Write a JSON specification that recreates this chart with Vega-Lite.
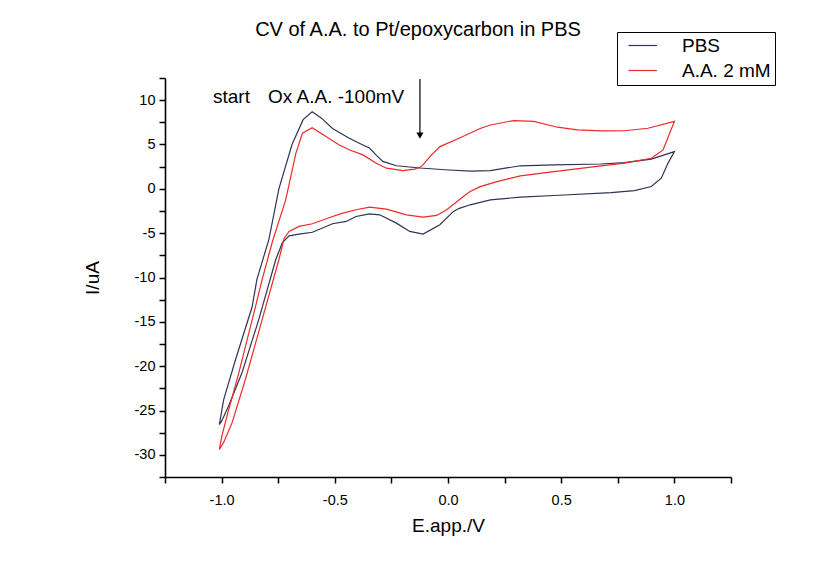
{
  "$schema": "https://vega.github.io/schema/vega-lite/v6.json",
  "width": 566,
  "height": 399,
  "autosize": {"type": "none"},
  "padding": {"left": 165, "top": 78, "right": 103, "bottom": 93},
  "background": "white",
  "config": {
    "font": "Liberation Sans",
    "view": {"stroke": null},
    "axis": {"grid": false, "domainColor": "black", "domainWidth": 1.6, "tickColor": "black", "tickWidth": 1.5, "tickSize": 6, "labelFont": "Liberation Sans", "labelFontSize": 14.5, "labelColor": "black", "titleFont": "Liberation Sans", "titleFontSize": 19, "titleFontWeight": "normal", "titleColor": "black"}
  },
  "title": {"text": "CV of A.A. to Pt/epoxycarbon in PBS", "fontSize": 20, "fontWeight": "normal", "font": "Liberation Sans", "anchor": "middle", "dx": -30, "offset": -8, "color": "black"},
  "datasets": {
    "cv": [
      {"s": "PBS", "o": 1, "E": -1.01, "I": -26.6},
      {"s": "PBS", "o": 2, "E": -0.991, "I": -23.8},
      {"s": "PBS", "o": 3, "E": -0.939, "I": -19.3},
      {"s": "PBS", "o": 4, "E": -0.865, "I": -13.3},
      {"s": "PBS", "o": 5, "E": -0.844, "I": -10.2},
      {"s": "PBS", "o": 6, "E": -0.791, "I": -5.7},
      {"s": "PBS", "o": 7, "E": -0.747, "I": 0},
      {"s": "PBS", "o": 8, "E": -0.689, "I": 5},
      {"s": "PBS", "o": 9, "E": -0.64, "I": 7.8},
      {"s": "PBS", "o": 10, "E": -0.6, "I": 8.7},
      {"s": "PBS", "o": 11, "E": -0.56, "I": 8.0},
      {"s": "PBS", "o": 12, "E": -0.51, "I": 6.8},
      {"s": "PBS", "o": 13, "E": -0.436, "I": 5.7},
      {"s": "PBS", "o": 14, "E": -0.376, "I": 4.95},
      {"s": "PBS", "o": 15, "E": -0.347, "I": 4.6},
      {"s": "PBS", "o": 16, "E": -0.317, "I": 3.8},
      {"s": "PBS", "o": 17, "E": -0.288, "I": 3.1},
      {"s": "PBS", "o": 18, "E": -0.228, "I": 2.6},
      {"s": "PBS", "o": 19, "E": -0.124, "I": 2.35},
      {"s": "PBS", "o": 20, "E": -0.013, "I": 2.15},
      {"s": "PBS", "o": 21, "E": 0.1, "I": 2.0},
      {"s": "PBS", "o": 22, "E": 0.187, "I": 2.05},
      {"s": "PBS", "o": 23, "E": 0.246, "I": 2.3},
      {"s": "PBS", "o": 24, "E": 0.32, "I": 2.6},
      {"s": "PBS", "o": 25, "E": 0.468, "I": 2.7},
      {"s": "PBS", "o": 26, "E": 0.676, "I": 2.8},
      {"s": "PBS", "o": 27, "E": 0.779, "I": 2.95},
      {"s": "PBS", "o": 28, "E": 0.898, "I": 3.35},
      {"s": "PBS", "o": 29, "E": 1.0, "I": 4.2},
      {"s": "PBS", "o": 30, "E": 0.972, "I": 2.9},
      {"s": "PBS", "o": 31, "E": 0.942, "I": 1.2},
      {"s": "PBS", "o": 32, "E": 0.898, "I": 0.26},
      {"s": "PBS", "o": 33, "E": 0.824, "I": -0.2},
      {"s": "PBS", "o": 34, "E": 0.72, "I": -0.42},
      {"s": "PBS", "o": 35, "E": 0.468, "I": -0.75},
      {"s": "PBS", "o": 36, "E": 0.32, "I": -0.94},
      {"s": "PBS", "o": 37, "E": 0.187, "I": -1.24},
      {"s": "PBS", "o": 38, "E": 0.098, "I": -1.8},
      {"s": "PBS", "o": 39, "E": 0.05, "I": -2.2},
      {"s": "PBS", "o": 40, "E": 0.024, "I": -2.55},
      {"s": "PBS", "o": 41, "E": -0.036, "I": -4.05},
      {"s": "PBS", "o": 42, "E": -0.11, "I": -5.1},
      {"s": "PBS", "o": 43, "E": -0.169, "I": -4.8},
      {"s": "PBS", "o": 44, "E": -0.228, "I": -3.87},
      {"s": "PBS", "o": 45, "E": -0.302, "I": -2.93},
      {"s": "PBS", "o": 46, "E": -0.347, "I": -2.82},
      {"s": "PBS", "o": 47, "E": -0.406, "I": -3.12},
      {"s": "PBS", "o": 48, "E": -0.45, "I": -3.68},
      {"s": "PBS", "o": 49, "E": -0.51, "I": -3.94},
      {"s": "PBS", "o": 50, "E": -0.599, "I": -4.9},
      {"s": "PBS", "o": 51, "E": -0.658, "I": -5.1},
      {"s": "PBS", "o": 52, "E": -0.702, "I": -5.3},
      {"s": "PBS", "o": 53, "E": -0.732, "I": -6.1},
      {"s": "PBS", "o": 54, "E": -0.761, "I": -8.0},
      {"s": "PBS", "o": 55, "E": -0.836, "I": -14.75},
      {"s": "PBS", "o": 56, "E": -0.91, "I": -20.75},
      {"s": "PBS", "o": 57, "E": -0.969, "I": -24.5},
      {"s": "PBS", "o": 58, "E": -1.0, "I": -26.2},
      {"s": "PBS", "o": 59, "E": -1.01, "I": -26.6},
      {"s": "A.A. 2 mM", "o": 1, "E": -1.01, "I": -29.4},
      {"s": "A.A. 2 mM", "o": 2, "E": -0.999, "I": -27.9},
      {"s": "A.A. 2 mM", "o": 3, "E": -0.976, "I": -25.6},
      {"s": "A.A. 2 mM", "o": 4, "E": -0.924, "I": -20.75},
      {"s": "A.A. 2 mM", "o": 5, "E": -0.85, "I": -13.25},
      {"s": "A.A. 2 mM", "o": 6, "E": -0.821, "I": -10.25},
      {"s": "A.A. 2 mM", "o": 7, "E": -0.776, "I": -6.0},
      {"s": "A.A. 2 mM", "o": 8, "E": -0.717, "I": -1.24},
      {"s": "A.A. 2 mM", "o": 9, "E": -0.672, "I": 4.0},
      {"s": "A.A. 2 mM", "o": 10, "E": -0.643, "I": 6.27},
      {"s": "A.A. 2 mM", "o": 11, "E": -0.6, "I": 6.9},
      {"s": "A.A. 2 mM", "o": 12, "E": -0.539, "I": 5.9},
      {"s": "A.A. 2 mM", "o": 13, "E": -0.48, "I": 4.95},
      {"s": "A.A. 2 mM", "o": 14, "E": -0.436, "I": 4.4},
      {"s": "A.A. 2 mM", "o": 15, "E": -0.376, "I": 3.83},
      {"s": "A.A. 2 mM", "o": 16, "E": -0.317, "I": 2.89},
      {"s": "A.A. 2 mM", "o": 17, "E": -0.272, "I": 2.33},
      {"s": "A.A. 2 mM", "o": 18, "E": -0.199, "I": 2.06},
      {"s": "A.A. 2 mM", "o": 19, "E": -0.147, "I": 2.22},
      {"s": "A.A. 2 mM", "o": 20, "E": -0.117, "I": 2.51},
      {"s": "A.A. 2 mM", "o": 21, "E": -0.08, "I": 3.64},
      {"s": "A.A. 2 mM", "o": 22, "E": -0.036, "I": 4.76},
      {"s": "A.A. 2 mM", "o": 23, "E": 0.039, "I": 5.6},
      {"s": "A.A. 2 mM", "o": 24, "E": 0.142, "I": 6.8},
      {"s": "A.A. 2 mM", "o": 25, "E": 0.187, "I": 7.2},
      {"s": "A.A. 2 mM", "o": 26, "E": 0.29, "I": 7.7},
      {"s": "A.A. 2 mM", "o": 27, "E": 0.379, "I": 7.6},
      {"s": "A.A. 2 mM", "o": 28, "E": 0.483, "I": 6.95},
      {"s": "A.A. 2 mM", "o": 29, "E": 0.572, "I": 6.64},
      {"s": "A.A. 2 mM", "o": 30, "E": 0.676, "I": 6.53},
      {"s": "A.A. 2 mM", "o": 31, "E": 0.779, "I": 6.55},
      {"s": "A.A. 2 mM", "o": 32, "E": 0.883, "I": 6.83},
      {"s": "A.A. 2 mM", "o": 33, "E": 1.0, "I": 7.6},
      {"s": "A.A. 2 mM", "o": 34, "E": 0.979, "I": 6.27},
      {"s": "A.A. 2 mM", "o": 35, "E": 0.95, "I": 4.39},
      {"s": "A.A. 2 mM", "o": 36, "E": 0.898, "I": 3.45},
      {"s": "A.A. 2 mM", "o": 37, "E": 0.779, "I": 2.89},
      {"s": "A.A. 2 mM", "o": 38, "E": 0.631, "I": 2.44},
      {"s": "A.A. 2 mM", "o": 39, "E": 0.468, "I": 1.95},
      {"s": "A.A. 2 mM", "o": 40, "E": 0.32, "I": 1.46},
      {"s": "A.A. 2 mM", "o": 41, "E": 0.216, "I": 0.82},
      {"s": "A.A. 2 mM", "o": 42, "E": 0.142, "I": 0.25},
      {"s": "A.A. 2 mM", "o": 43, "E": 0.098, "I": -0.3},
      {"s": "A.A. 2 mM", "o": 44, "E": 0.068, "I": -0.87},
      {"s": "A.A. 2 mM", "o": 45, "E": -0.006, "I": -2.36},
      {"s": "A.A. 2 mM", "o": 46, "E": -0.05, "I": -3.0},
      {"s": "A.A. 2 mM", "o": 47, "E": -0.11, "I": -3.2},
      {"s": "A.A. 2 mM", "o": 48, "E": -0.184, "I": -2.93},
      {"s": "A.A. 2 mM", "o": 49, "E": -0.272, "I": -2.29},
      {"s": "A.A. 2 mM", "o": 50, "E": -0.347, "I": -2.06},
      {"s": "A.A. 2 mM", "o": 51, "E": -0.406, "I": -2.36},
      {"s": "A.A. 2 mM", "o": 52, "E": -0.465, "I": -2.74},
      {"s": "A.A. 2 mM", "o": 53, "E": -0.51, "I": -3.12},
      {"s": "A.A. 2 mM", "o": 54, "E": -0.599, "I": -3.94},
      {"s": "A.A. 2 mM", "o": 55, "E": -0.658, "I": -4.24},
      {"s": "A.A. 2 mM", "o": 56, "E": -0.702, "I": -4.8},
      {"s": "A.A. 2 mM", "o": 57, "E": -0.724, "I": -5.6},
      {"s": "A.A. 2 mM", "o": 58, "E": -0.747, "I": -8.0},
      {"s": "A.A. 2 mM", "o": 59, "E": -0.821, "I": -14.75},
      {"s": "A.A. 2 mM", "o": 60, "E": -0.895, "I": -21.5},
      {"s": "A.A. 2 mM", "o": 61, "E": -0.954, "I": -26.4},
      {"s": "A.A. 2 mM", "o": 62, "E": -0.991, "I": -28.6},
      {"s": "A.A. 2 mM", "o": 63, "E": -1.01, "I": -29.4}
    ],
    "notes": [
      {"E": -1.038, "I": 10.4, "t": "start"},
      {"E": -0.795, "I": 10.4, "t": "Ox A.A. -100mV"}
    ],
    "arrow": [
      {"E": -0.124, "I": 12.4, "I2": 6.0}
    ]
  },
  "layer": [
    {
      "data": {"name": "cv"},
      "mark": {"type": "line", "strokeWidth": 1.2},
      "encoding": {
        "x": {"field": "E", "type": "quantitative", "scale": {"domain": [-1.25, 1.25], "nice": false, "zero": false},
              "axis": {"title": "E.app./V", "tickCount": 30, "values": [-1.25, -1, -0.75, -0.5, -0.25, 0, 0.25, 0.5, 0.75, 1, 1.25], "labelExpr": "datum.value % 0.5 == 0 ? replace(format(datum.value, '.1f'), '\u2212', '-') : ''", "labelPadding": 10, "titlePadding": 10}},
        "y": {"field": "I", "type": "quantitative", "scale": {"domain": [-32.5, 12.5], "nice": false, "zero": false},
              "axis": {"title": "I/uA", "tickCount": 40, "values": [-32.5, -30, -27.5, -25, -22.5, -20, -17.5, -15, -12.5, -10, -7.5, -5, -2.5, 0, 2.5, 5, 7.5, 10, 12.5], "labelExpr": "datum.value % 5 == 0 ? replace(format(datum.value, 'd'), '\u2212', '-') : ''", "labelPadding": 4, "titlePadding": 32, "labelOverlap": false}},
        "color": {"field": "s", "type": "nominal", "scale": {"domain": ["PBS", "A.A. 2 mM"], "range": ["#2e3452", "#f02828"]},
                  "legend": {"title": null, "orient": "none", "legendX": 452, "legendY": -46, "strokeColor": "black", "padding": 4, "symbolType": "M-0.5,0H6.6", "symbolSize": 64, "symbolStrokeWidth": 1.2, "labelFontSize": 19, "labelFont": "Liberation Sans", "labelColor": "black", "rowPadding": 5, "labelOffset": 42, "fillColor": "white"}},
        "order": {"field": "o", "type": "quantitative"}
      }
    },
    {
      "data": {"name": "notes"},
      "mark": {"type": "text", "align": "left", "baseline": "middle", "fontSize": 19, "font": "Liberation Sans", "color": "black"},
      "encoding": {
        "x": {"field": "E", "type": "quantitative"},
        "y": {"field": "I", "type": "quantitative"},
        "text": {"field": "t"}
      }
    },
    {
      "data": {"name": "arrow"},
      "mark": {"type": "rule", "color": "black", "strokeWidth": 1.2},
      "encoding": {
        "x": {"field": "E", "type": "quantitative"},
        "y": {"field": "I", "type": "quantitative"},
        "y2": {"field": "I2"}
      }
    },
    {
      "data": {"name": "arrow"},
      "mark": {"type": "point", "shape": "triangle-down", "filled": true, "color": "black", "size": 50, "opacity": 1},
      "encoding": {
        "x": {"field": "E", "type": "quantitative"},
        "y": {"field": "I2", "type": "quantitative"}
      }
    }
  ]
}
